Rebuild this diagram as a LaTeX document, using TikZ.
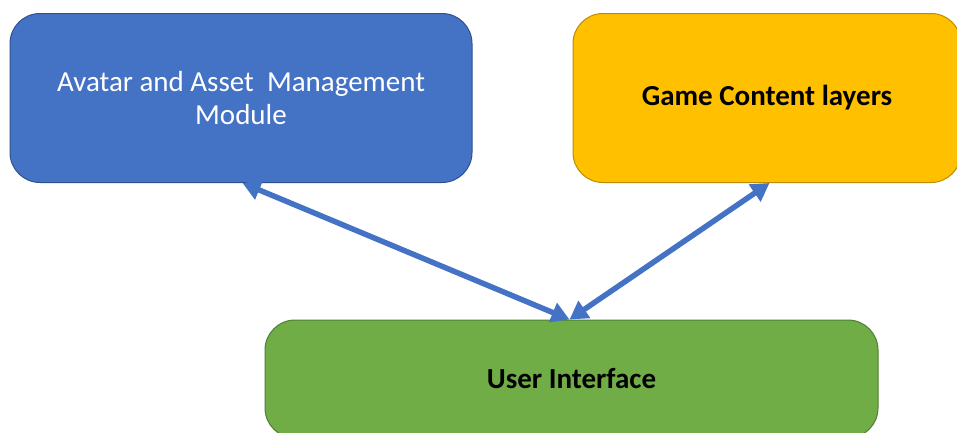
\documentclass[tikz,border=0pt]{standalone}
\usepackage{fontspec}
\setmainfont{Carlito}
\usetikzlibrary{arrows.meta}
\definecolor{bluefill}{HTML}{4472C4}
\definecolor{blueline}{HTML}{2F528F}
\definecolor{yellowfill}{HTML}{FFC000}
\definecolor{yellowline}{HTML}{BC8C00}
\definecolor{greenfill}{HTML}{70AD47}
\definecolor{greenline}{HTML}{507E32}
\tikzset{
  modbox/.style={rectangle, rounded corners=30pt, line width=1pt, align=center,
    inner sep=0pt, font=\fontsize{29}{33}\selectfont},
  link/.style={draw=bluefill, line width=5.5pt, {Triangle[length=18pt,width=20pt]}-{Triangle[length=18pt,width=20pt]}}
}
\begin{document}
\begin{tikzpicture}[x=1pt,y=-1pt]
\useasboundingbox (0,0) rectangle (957,432);
\begin{scope}
\clip (0,0) rectangle (957,432);
\node[modbox, fill=bluefill, draw=blueline, text=white, minimum width=462pt, minimum height=169pt] (avatar) at (241,98) {Avatar and Asset\ \ Management\\Module};
\node[modbox, fill=yellowfill, draw=yellowline, text=black, font=\fontsize{29}{33}\selectfont\bfseries, minimum width=388pt, minimum height=169pt] (game) at (767,98) {Game Content layers};
\node[modbox, fill=greenfill, draw=greenline, text=black, font=\fontsize{29}{33}\selectfont\bfseries, minimum width=613pt, minimum height=118pt] (ui) at (571.5,379) {User Interface};
\end{scope}
\coordinate (a1) at ([xshift=233pt]avatar.south west);
\coordinate (g1) at ([xshift=197pt]game.south west);
\coordinate (u1) at ([xshift=-2pt]ui.north);
\draw[link] (a1) -- (u1);
\draw[link] (g1) -- (u1);
\end{tikzpicture}
\end{document}
